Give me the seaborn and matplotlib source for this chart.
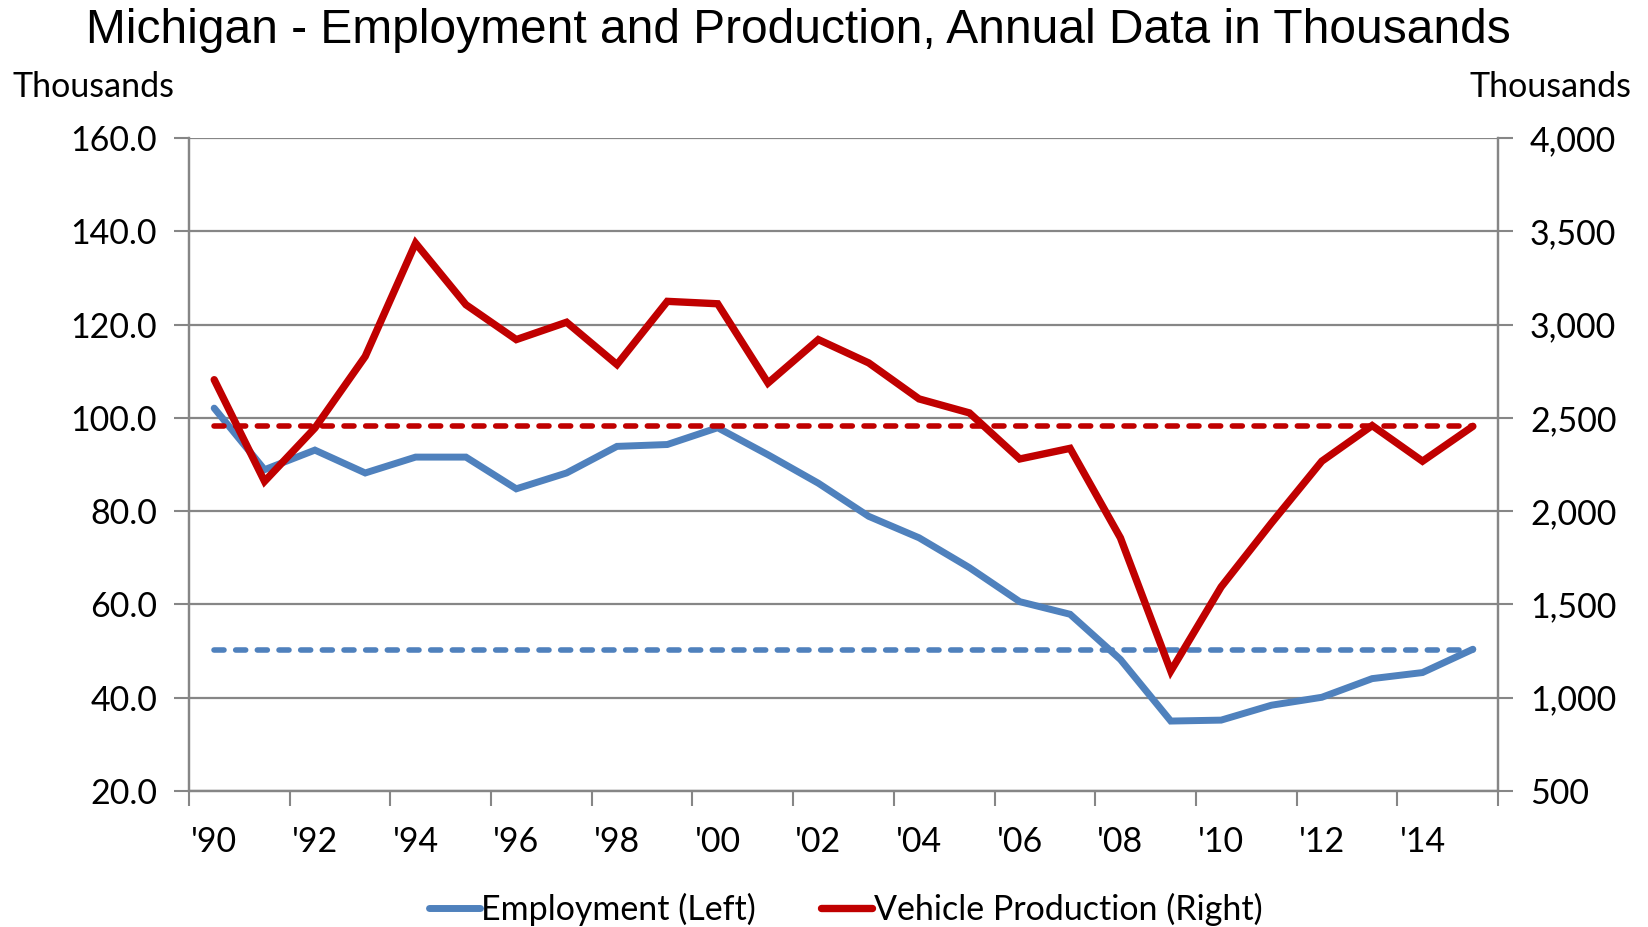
import pandas as pd
import matplotlib
matplotlib.use("Agg")
import matplotlib.pyplot as plt
import seaborn as sns

# Annual data
years = list(range(1990, 2016))
employment = [102.1, 88.9, 93.1, 88.2, 91.6, 91.6, 84.8, 88.2, 93.9, 94.3,
              97.9, 92.1, 86.0, 78.9, 74.3, 67.9, 60.6, 57.9, 48.2, 35.0,
              35.2, 38.4, 40.1, 44.1, 45.4, 50.4]
production = [2705, 2160, 2446, 2830, 3437, 3107, 2920, 3013, 2786, 3125,
              3112, 2687, 2920, 2795, 2602, 2527, 2280, 2337, 1857, 1143,
              1594, 1937, 2268, 2459, 2268, 2455]
employment_ref = 50.2
production_ref = 2455
tick_labels = ["'" + str(y)[-2:] for y in years]

BLUE = "#4F81BD"
RED = "#C00000"
GRID = "#868686"
FS = 24.5

df = pd.DataFrame({"pos": range(len(years)), "year": years,
                   "employment": employment, "production": production})

sns.set_style("white")
plt.rcParams['font.family'] = ['Lato', 'DejaVu Sans']
plt.rcParams['text.color'] = 'black'
plt.rcParams['xtick.labelcolor'] = 'black'
plt.rcParams['ytick.labelcolor'] = 'black'

fig = plt.figure(figsize=(16.48, 9.27), dpi=100)
ax = fig.add_axes([0.1147, 0.1467, 0.7943, 0.7043])
ax2 = ax.twinx()

sns.lineplot(data=df, x="pos", y="employment", ax=ax, color=BLUE,
             linewidth=5, label="Employment (Left)", legend=False)
ax.hlines(employment_ref, df["pos"].iloc[0], df["pos"].iloc[-1], color=BLUE,
          linewidth=4, linestyles=(0, (1.8, 2.1)), capstyle="round")
sns.lineplot(data=df, x="pos", y="production", ax=ax2, color=RED,
             linewidth=5.3, label="Vehicle Production (Right)", legend=False)
ax2.hlines(production_ref, df["pos"].iloc[0], df["pos"].iloc[-1], color=RED,
           linewidth=4, linestyles=(0, (1.8, 2.1)), capstyle="round")
for ln in ax.lines + ax2.lines:
    ln.set_solid_capstyle("round")
    ln.set_solid_joinstyle("miter")

ax.set_xlim(-0.5, len(years) - 0.5)
ax.set_ylim(20, 160)
ax2.set_ylim(500, 4000)
ax.set_yticks(range(20, 161, 20))
ax2.set_yticks(range(500, 4001, 500))
ax.set_yticklabels([f"{v:.1f}" for v in range(20, 161, 20)])
ax2.set_yticklabels([f"{v:,}" for v in range(500, 4001, 500)])

# tick marks between categories, labels on every other category
ax.set_xticks([p - 0.5 for p in range(0, len(years) + 1, 2)])
ax.set_xticklabels([])
ax.set_xticks(list(range(0, len(years), 2)), minor=True)
ax.set_xticklabels(tick_labels[::2], minor=True)
ax.tick_params(axis="x", which="major", length=11, width=1.5, color=GRID, direction="out", bottom=True)
ax.tick_params(axis="x", which="minor", length=0, pad=25, labelsize=FS, labelcolor="black")
ax.tick_params(axis="y", length=11, width=1.5, color=GRID, direction="out", left=True, pad=12,
               labelsize=FS, labelcolor="black")
ax2.tick_params(axis="y", length=11, width=1.5, color=GRID, direction="out", right=True, pad=12,
                labelsize=FS, labelcolor="black")
ax.set_xlabel("")
ax.set_ylabel("")
ax2.set_ylabel("")

ax.grid(axis="y", color=GRID, linewidth=1.6)
ax.set_axisbelow(True)
for a in (ax, ax2):
    a.spines["top"].set_visible(False)
    for s in ("left", "right", "bottom"):
        a.spines[s].set_color(GRID)
        a.spines[s].set_linewidth(1.6)

fig.text(0.4845, 0.967, "Michigan - Employment and Production, Annual Data in Thousands",
         ha="center", va="center", fontsize=34.5, color="black",
         family=["Liberation Sans", "DejaVu Sans"])
fig.text(0.0075, 0.906, "Thousands", ha="left", va="center", fontsize=FS, color="black")
fig.text(0.9898, 0.906, "Thousands", ha="right", va="center", fontsize=FS, color="black")

handles = ax.get_lines()[:1] + ax2.get_lines()[:1]
labels = ["Employment (Left)", "Vehicle Production (Right)"]
leg = fig.legend(handles, labels, loc="center", bbox_to_anchor=(0.513, 0.019), ncol=2,
                 frameon=False, fontsize=FS, handlelength=1.5, handletextpad=0.05,
                 columnspacing=1.9)
for t in leg.get_texts():
    t.set_color("black")

fig.savefig("out.png", dpi=100)
